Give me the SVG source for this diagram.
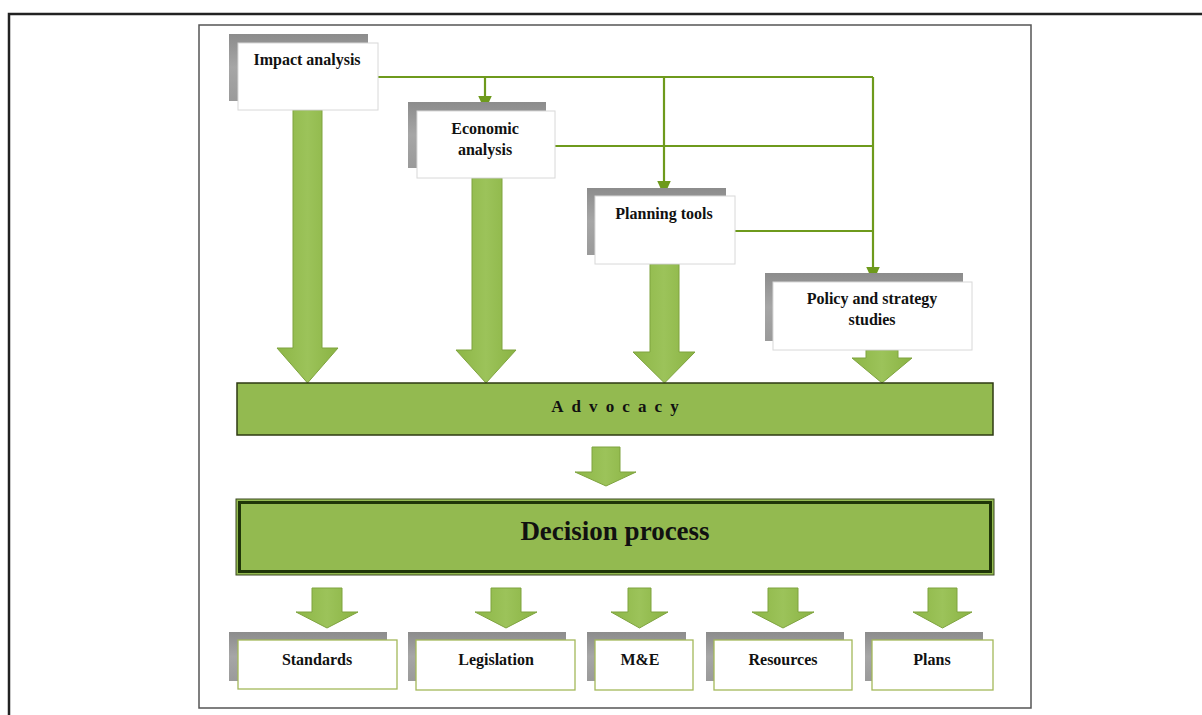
<svg xmlns="http://www.w3.org/2000/svg" width="1202" height="715" viewBox="0 0 1202 715">
<style>
.t{font-family:"Liberation Serif","Times New Roman",serif;font-weight:bold;fill:#111;text-anchor:middle}
.n{font-size:16px}
.shadow{fill:url(#gs)}
.box{fill:#fff;stroke:#d8d8d8;stroke-width:1}
.gbox{fill:#fff;stroke:#a4b85a;stroke-width:1.3}
.ba{fill:url(#gg);stroke:#7ea33e;stroke-width:1}
.conn{fill:none;stroke:#6e9a1c;stroke-width:2.2}
</style>
<defs>
<linearGradient id="gs" x1="0" y1="0" x2="0" y2="1">
<stop offset="0" stop-color="#8c8c8c"/><stop offset="0.5" stop-color="#a6a6a6"/><stop offset="1" stop-color="#9a9a9a"/>
</linearGradient>
<linearGradient id="gg" x1="0" y1="0" x2="1" y2="0">
<stop offset="0" stop-color="#8db646"/><stop offset="0.5" stop-color="#9cc35a"/><stop offset="1" stop-color="#8ab343"/>
</linearGradient>
<marker id="ah" viewBox="0 0 10 10" refX="10" refY="5" markerWidth="15" markerHeight="15" markerUnits="userSpaceOnUse" orient="auto">
<path d="M0,0.5 L10,5 L0,9.5 Z" fill="#6e9a1c"/>
</marker>
</defs>
<rect width="1202" height="715" fill="#fff"/>
<!-- frames -->
<path d="M9,715 V14 H1202" fill="none" stroke="#222" stroke-width="2.5"/>
<rect x="199" y="25" width="832" height="683" fill="none" stroke="#555" stroke-width="1.5"/>

<!-- connectors -->
<g id="connectors">
<path class="conn" d="M378,77 H873"/>
<path class="conn" d="M485,77 V111" marker-end="url(#ah)"/>
<path class="conn" d="M664,77 V196" marker-end="url(#ah)"/>
<path class="conn" d="M873,77 V282" marker-end="url(#ah)"/>
<path class="conn" d="M555,146 H873"/>
<path class="conn" d="M735,231 H873"/>
</g>

<!-- block arrows -->
<g id="block-arrows">
<path class="ba" d="M293,110 H322 V348 H338 L307.5,383 L277,348 H293 Z"/>
<path class="ba" d="M472,178 H502 V350 H516 L486,383 L456,350 H472 Z"/>
<path class="ba" d="M650,264 H679 V352 H695 L664.5,383 L633,352 H650 Z"/>
<path class="ba" d="M866,350 H898 V358 H912 L882,383 L852,358 H866 Z"/>
<path class="ba" d="M592,447 H620 V472 H636 L606,486 L575,472 H592 Z"/>
<path class="ba" d="M312,588 H342 V612 H358 L327,628 L296,612 H312 Z"/>
<path class="ba" d="M491,588 H521 V612 H537 L506,628 L475,612 H491 Z"/>
<path class="ba" d="M628,588 H651 V612 H668 L639.5,628 L611,612 H628 Z"/>
<path class="ba" d="M768,588 H798 V612 H814 L783,628 L752,612 H768 Z"/>
<path class="ba" d="M928,588 H957 V612 H972 L942.5,628 L913,612 H928 Z"/>
</g>

<!-- top nodes -->
<g id="impact-analysis">
<rect class="shadow" x="229" y="34" width="139" height="67"/>
<rect class="box" x="238" y="43" width="140" height="67"/>
<text class="t n" x="307" y="65">Impact analysis</text>
</g>
<g id="economic-analysis">
<rect class="shadow" x="408" y="102" width="138" height="66"/>
<rect class="box" x="417" y="111" width="138" height="67"/>
<text class="t n" x="485" y="134">Economic</text>
<text class="t n" x="485" y="155">analysis</text>
</g>
<g id="planning-tools">
<rect class="shadow" x="587" y="188" width="139" height="67"/>
<rect class="box" x="595" y="196" width="140" height="68"/>
<text class="t n" x="664" y="219">Planning tools</text>
</g>
<g id="policy-strategy">
<rect class="shadow" x="765" y="273" width="198" height="68"/>
<rect class="box" x="773" y="282" width="199" height="68"/>
<text class="t n" x="872" y="304">Policy and strategy</text>
<text class="t n" x="872" y="325">studies</text>
</g>

<!-- advocacy -->
<g id="advocacy">
<rect x="237" y="383" width="756" height="52" fill="#93ba50" stroke="#2e3a12" stroke-width="1.5"/>
<text class="t" x="619" y="412" font-size="17" letter-spacing="8.1">Advocacy</text>
</g>

<!-- decision -->
<g id="decision-process">
<rect x="236" y="499" width="758" height="76" fill="#93ba50" stroke="#3c4a22" stroke-width="1"/>
<rect x="239.5" y="502.5" width="751" height="69" fill="none" stroke="#1f3608" stroke-width="3"/>
<text class="t" x="615" y="540" font-size="27">Decision process</text>
</g>

<!-- bottom nodes -->
<g id="standards">
<rect class="shadow" x="229" y="632" width="158" height="49"/>
<rect class="gbox" x="238" y="640" width="159" height="49"/>
<text class="t n" x="317" y="665">Standards</text>
</g>
<g id="legislation">
<rect class="shadow" x="408" y="632" width="158" height="49"/>
<rect class="gbox" x="416" y="640" width="159" height="50"/>
<text class="t n" x="496" y="665">Legislation</text>
</g>
<g id="me">
<rect class="shadow" x="587" y="632" width="99" height="49"/>
<rect class="gbox" x="595" y="640" width="98" height="50"/>
<text class="t n" x="640" y="665">M&amp;E</text>
</g>
<g id="resources">
<rect class="shadow" x="706" y="632" width="138" height="49"/>
<rect class="gbox" x="714" y="640" width="138" height="50"/>
<text class="t n" x="783" y="665">Resources</text>
</g>
<g id="plans">
<rect class="shadow" x="865" y="632" width="118" height="49"/>
<rect class="gbox" x="872" y="640" width="121" height="50"/>
<text class="t n" x="932" y="665">Plans</text>
</g>
</svg>
